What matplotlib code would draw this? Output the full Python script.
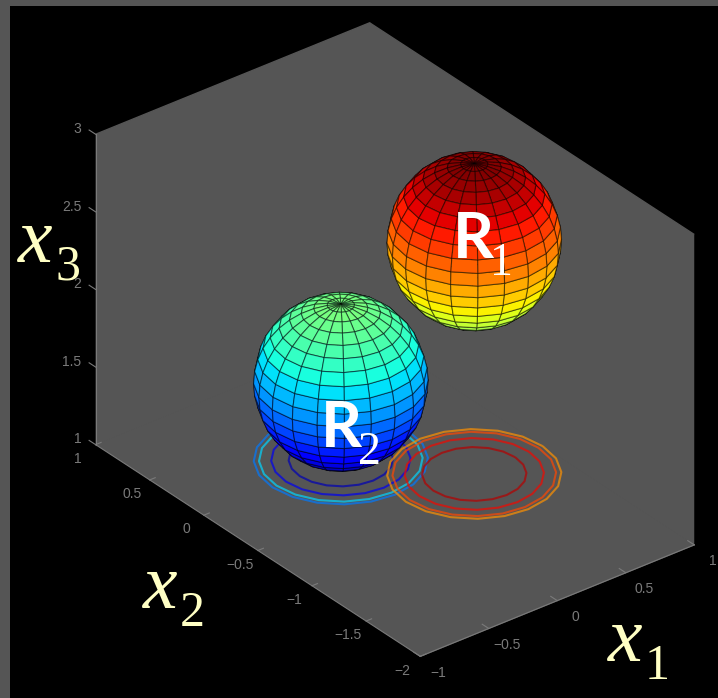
import numpy as np
import matplotlib
matplotlib.use('Agg')
import matplotlib.pyplot as plt
from matplotlib.patches import Rectangle

# sphere centres and radius
center_r1 = [0.5, -0.6, 2.5]
center_r2 = [0.0, 0.0, 1.5]
radius = 0.5
levels_r1 = [2.51, 2.67, 2.8, 2.9]
levels_r2 = [1.1, 1.2, 1.49, 1.67]

x1_ticks = [-1, -0.5, 0, 0.5, 1]
x2_ticks = [-2, -1.5, -1, -0.5, 0, 0.5, 1]
x3_ticks = [1, 1.5, 2, 2.5, 3]
x1_labels = ['\u22121', '\u22120.5', '0', '0.5', '1']
x2_labels = ['\u22122', '\u22121.5', '\u22121', '\u22120.5', '0', '0.5', '1']
x3_labels = ['1', '1.5', '2', '2.5', '3']

W, H = 718, 698
GRAY = '#555555'
CREAM = '#ffffc4'
TICK = '#7a7a7a'

fig = plt.figure(figsize=(W / 100, H / 100), dpi=100, facecolor='black')
plt.rcParams['font.family'] = 'Liberation Sans'

# gray border round the slide
fig.patches.append(Rectangle((0, 0), 10 / W, 1, transform=fig.transFigure, fc=GRAY, ec='none'))
fig.patches.append(Rectangle((0, 1 - 6 / H), 1, 6 / H, transform=fig.transFigure, fc=GRAY, ec='none'))

ax = fig.add_axes([26.5 / W, 0.0, 1.0, 1.0], projection='3d', computed_zorder=False)
ax.set_facecolor('none')
ax.set_proj_type('ortho')
ax.view_init(elev=31, azim=-128.3)
ax.set_box_aspect((2, 3, 2.074), zoom=1.01)
ax.set_xlim(-1, 1, view_margin=0)
ax.set_ylim(-2, 1, view_margin=0)
ax.set_zlim(1, 3, view_margin=0)

u = np.linspace(0, 2 * np.pi, 21)
v = np.linspace(0, np.pi, 21)
UU, VV = np.meshgrid(u, v)


def sphere(c):
    return (c[0] + radius * np.cos(UU) * np.sin(VV),
            c[1] + radius * np.sin(UU) * np.sin(VV),
            c[2] + radius * np.cos(VV))


for c, levels in [(center_r2, levels_r2), (center_r1, levels_r1)]:
    X, Y, Z = sphere(c)
    ax.contour(X, Y, Z, levels=levels, zdir='z', offset=1, cmap='jet', vmin=1, vmax=3,
               linewidths=1.5, alpha=0.7, zorder=1)

for c in [center_r1, center_r2]:
    X, Y, Z = sphere(c)
    ax.plot_surface(X, Y, Z, rstride=1, cstride=1, cmap='jet', vmin=1, vmax=3, shade=False,
                    edgecolor=(0, 0, 0, 0.5), linewidth=0.8, antialiased=True, zorder=3)

ax.set_xticks(x1_ticks)
ax.set_yticks(x2_ticks)
ax.set_zticks(x3_ticks)
ax.grid(False)
for a in [ax.xaxis, ax.yaxis, ax.zaxis]:
    a.set_pane_color(GRAY)
    a.pane.set_edgecolor(GRAY)
    a.line.set_color(TICK)
    a._axinfo['tick']['inward_factor'] = 0
    a._axinfo['tick']['outward_factor'] = 0.25
    a._axinfo['tick']['color'] = TICK
    for tk in a.get_major_ticks():
        tk.label1.set_visible(False)
ax.tick_params(axis='both', colors=TICK)
# z ticks point along x2 in the reference
ax.zaxis._get_tickdir = lambda pos: 1

# tick labels set by hand so they sit where the reference has them
for t, s in zip(x1_ticks, x1_labels):
    ax.text(t, -2.167, 0.97, s, color=TICK, fontsize=10, ha='center', va='center', zorder=5)
for t, s in zip(x2_ticks, x2_labels):
    ax.text(-1.13, t, 0.955, s, color=TICK, fontsize=10, ha='center', va='center', zorder=5)
for t, s in zip(x3_ticks, x3_labels):
    ax.text(-1, 1.13, t - 0.025, s, color=TICK, fontsize=10, ha='right', va='center', zorder=5)


def label(px, py, main, sub):
    fig.text(px / W, 1 - py / H, main, color=CREAM, fontsize=56, family='Liberation Serif',
             style='italic', ha='left', va='baseline')
    fig.text((px + 37) / W, 1 - (py + 18) / H, sub, color=CREAM, fontsize=36,
             family='Liberation Serif', ha='left', va='baseline')


label(18, 262, 'x', '3')
label(143, 608, 'x', '2')
label(608, 661, 'x', '1')


def region(px, py, sub):
    fig.text(px / W, 1 - py / H, 'R', color='white', fontsize=46, family='Lato',
             weight='bold', ha='left', va='baseline')
    fig.text((px + 37) / W, 1 - (py + 17) / H, sub, color='white', fontsize=33,
             family='Liberation Serif', ha='left', va='baseline')


region(453, 258, '1')
region(321, 447, '2')

fig.savefig('out.png', dpi=100, facecolor=fig.get_facecolor())
